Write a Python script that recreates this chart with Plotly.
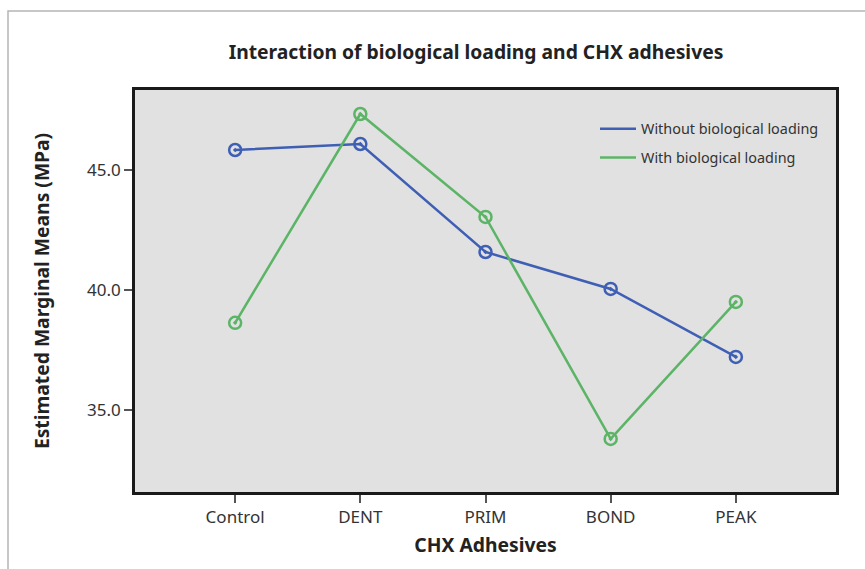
import plotly.graph_objects as go

categories = ["Control", "DENT", "PRIM", "BOND", "PEAK"]
without_loading = [45.83, 46.08, 41.58, 40.04, 37.21]
with_loading = [38.63, 47.33, 43.04, 33.79, 39.50]
series_names = ["Without biological loading", "With biological loading"]
y_ticks = [35.0, 40.0, 45.0]
y_tick_labels = ["35.0", "40.0", "45.0"]

FONT = "Noto Sans"
BLUE = "#3f5fb5"
GREEN = "#5cb466"

fig = go.Figure()
for name, vals, col, grp in [(series_names[0], without_loading, BLUE, "a"),
                             (series_names[1], with_loading, GREEN, "b")]:
    fig.add_trace(go.Scatter(
        x=categories, y=vals, name=name, mode="lines+markers",
        showlegend=False, legendgroup=grp,
        line=dict(color=col, width=2.5),
        marker=dict(symbol="circle-open-dot", size=12, color=col, line=dict(width=2.5)),
    ))
    fig.add_trace(go.Scatter(
        x=[None], y=[None], name=name, mode="lines", legendgroup=grp,
        line=dict(color=col, width=2.5), showlegend=True,
    ))

W, H = 865, 569
L, R, T, B = 135, 29, 90, 77
pw, ph = W - L - R, H - T - B

def px_x(x):
    return (x - L) / pw

def px_y(y):
    return (H - B - y) / ph

fig.update_layout(
    width=W, height=H,
    margin=dict(l=L, r=R, t=T, b=B),
    paper_bgcolor="white",
    plot_bgcolor="#e1e1e1",
    font=dict(family=FONT, size=17, color="#333333"),
    title=dict(text="<b>Interaction of biological loading and CHX adhesives</b>",
               x=px_x(476), xref="paper", xanchor="center",
               y=1 - 52 / H, yanchor="middle",
               font=dict(family=FONT, size=19.3, color="#222222")),
    showlegend=True,
    legend=dict(x=px_x(595), y=px_y(113), xanchor="left", yanchor="top",
                bgcolor="rgba(0,0,0,0)", font=dict(family=FONT, size=14.4, color="#333333"),
                itemwidth=36, tracegroupgap=7),
    xaxis=dict(
        type="category", range=[-0.8, 4.8],
        showgrid=False, zeroline=False,
        showline=True, linecolor="#1a1a1a", linewidth=2.5, mirror=True,
        ticks="outside", ticklen=8, tickcolor="#555555", tickwidth=1.5,
        tickfont=dict(family=FONT, size=17, color="#333333"),
        title=dict(text="<b>CHX Adhesives</b>", standoff=12,
                   font=dict(family=FONT, size=19.3, color="#222222")),
    ),
    yaxis=dict(
        range=[31.58, 48.33],
        tickvals=y_ticks, ticktext=y_tick_labels,
        showgrid=False, zeroline=False,
        showline=True, linecolor="#1a1a1a", linewidth=2.5, mirror=True,
        ticks="outside", ticklen=8, tickcolor="#555555", tickwidth=1.5,
        tickfont=dict(family=FONT, size=17, color="#333333"),
        title=dict(text="<b>Estimated Marginal Means (MPa)</b>", standoff=33,
                   font=dict(family=FONT, size=19.3, color="#222222")),
    ),
    shapes=[dict(type="rect", xref="paper", yref="paper",
                 x0=px_x(8), x1=px_x(880), y0=px_y(600), y1=px_y(11),
                 line=dict(color="#b5b5b5", width=1.5), fillcolor="rgba(0,0,0,0)",
                 layer="below")],
)

fig.write_html("out.html", config={"displayModeBar": False},
               post_script="document.body.style.margin='0';")
